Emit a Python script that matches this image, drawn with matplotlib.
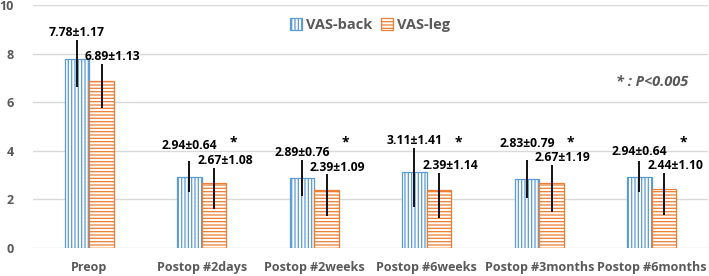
import numpy as np
import matplotlib
matplotlib.use("Agg")
import matplotlib.pyplot as plt

categories = ["Preop", "Postop #2days", "Postop #2weeks", "Postop #6weeks", "Postop #3months", "Postop #6months"]
back_mean = [7.78, 2.94, 2.89, 3.11, 2.83, 2.94]
back_sd = [1.17, 0.64, 0.76, 1.41, 0.79, 0.64]
leg_mean = [6.89, 2.67, 2.39, 2.39, 2.67, 2.44]
leg_sd = [1.13, 1.08, 1.09, 1.14, 1.19, 1.10]
significant = [False, True, True, True, True, True]

BLUE = "#5B9BD5"
ORANGE = "#ED7D31"
GRAY = "#595959"

plt.rcParams["font.family"] = ["Open Sans", "DejaVu Sans"]
plt.rcParams["hatch.linewidth"] = 0.9

fig = plt.figure(figsize=(7.09, 2.76), dpi=100)
ax = fig.add_axes([33 / 709, 28 / 276, 675 / 709, 243 / 276])

x = np.arange(len(categories))
w = 0.218
back_mean = np.array(back_mean)
back_sd = np.array(back_sd)
leg_mean = np.array(leg_mean)
leg_sd = np.array(leg_sd)

ax.bar(x - w / 2, back_mean, w, facecolor="white", edgecolor=BLUE, hatch="|||||",
       linewidth=0.9, label="VAS-back", zorder=2)
ax.bar(x + w / 2, leg_mean, w, facecolor="white", edgecolor=ORANGE, hatch="-----",
       linewidth=0.9, label="VAS-leg", zorder=2)

# label heights: orange sits near its error top, blue is pushed above orange
leg_lab = leg_mean + leg_sd - 0.15
back_lab = np.maximum(back_mean + back_sd - 0.1, leg_lab + 0.6)

# error bars (the top end is hidden under the data label, as in the source)
ax.vlines(x - w / 2, back_mean - back_sd, np.minimum(back_mean + back_sd, back_lab - 0.3),
          color="black", linewidth=1.3, zorder=3)
ax.vlines(x + w / 2, leg_mean - leg_sd, np.minimum(leg_mean + leg_sd, leg_lab - 0.3),
          color="black", linewidth=1.3, zorder=3)

for i in range(len(categories)):
    ax.annotate(f"{leg_mean[i]:.2f}\u00b1{leg_sd[i]:.2f}", (x[i] + w / 2, leg_lab[i]),
                xytext=(8, 0), textcoords="offset points", ha="center", va="center",
                fontsize=8.7, fontweight="bold", color="black", zorder=5)
    ax.annotate(f"{back_mean[i]:.2f}\u00b1{back_sd[i]:.2f}", (x[i] - w / 2, back_lab[i]),
                ha="center", va="center", fontsize=8.7, fontweight="bold", color="black",
                zorder=5)
    if significant[i]:
        ax.text(x[i] + 0.28, 4.35, "*", ha="center", va="center", fontsize=10,
                fontweight="bold", color="black", zorder=6)

ax.text(0.97, 0.685, "* : P<0.005", transform=ax.transAxes, ha="right", va="center",
        fontsize=10.5, fontweight="bold", fontstyle="italic", color=GRAY)

ax.set_xlim(-0.5, len(categories) - 0.5)
ax.set_ylim(0, 10)
ax.set_yticks(range(0, 11, 2))
ax.set_xticks(x)
ax.set_xticklabels(categories)
ax.tick_params(axis="both", length=0, labelsize=9, labelcolor=GRAY, pad=9)
for lbl in ax.get_xticklabels() + ax.get_yticklabels():
    lbl.set_fontweight("bold")
ax.tick_params(axis="y", pad=14)
ax.yaxis.grid(True, color="#D9D9D9", linewidth=1, zorder=0)
ax.set_axisbelow(True)
for s in ax.spines.values():
    s.set_visible(False)

leg = ax.legend(loc="upper center", bbox_to_anchor=(0.5, 1.0), ncol=2, frameon=False,
                handlelength=0.8, handleheight=0.8, handletextpad=0.3, columnspacing=0.6,
                prop={"weight": "bold", "size": 10.5})
for t in leg.get_texts():
    t.set_color(GRAY)

fig.savefig("out.png", dpi=100)
